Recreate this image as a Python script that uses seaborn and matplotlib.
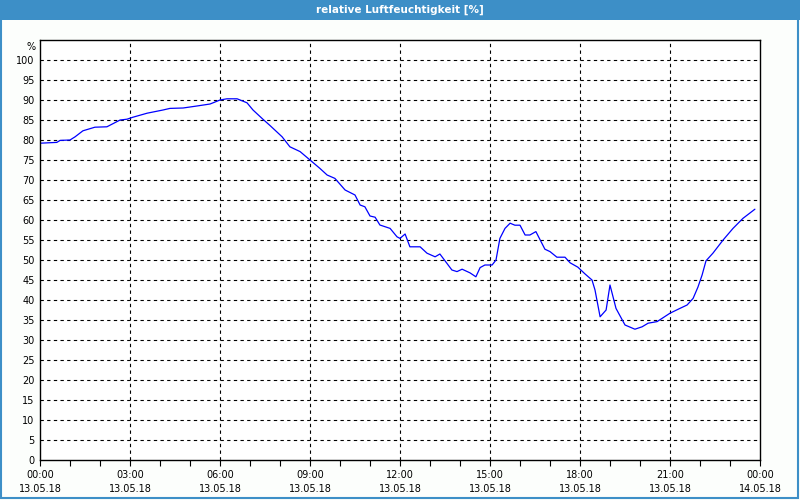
import matplotlib
matplotlib.use("Agg")
import matplotlib.pyplot as plt
import matplotlib.patches as mpatches
import seaborn as sns
import pandas as pd

# --- data (hours since 13.05.18 00:00, relative humidity %) ---
hours = [0.0, 0.56, 0.67, 1.0, 1.17, 1.43, 1.83, 2.23, 2.67, 2.9, 3.1, 3.57, 4.1, 4.33,
         4.77, 5.23, 5.67, 6.0, 6.23, 6.57, 6.9, 7.1, 7.43, 7.67, 8.07, 8.33, 8.67, 9.0,
         9.33, 9.57, 9.83, 10.17, 10.5, 10.67, 10.83, 11.0, 11.17, 11.33, 11.67, 11.9,
         12.0, 12.17, 12.33, 12.67, 12.9, 13.17, 13.33, 13.73, 13.9, 14.07, 14.33, 14.53,
         14.67, 14.83, 15.07, 15.2, 15.33, 15.5, 15.67, 15.83, 16.0, 16.17, 16.33, 16.53,
         16.83, 17.0, 17.23, 17.5, 17.67, 17.93, 18.17, 18.4, 18.5, 18.67, 18.87, 19.0,
         19.2, 19.5, 19.83, 20.07, 20.27, 20.57, 21.0, 21.33, 21.57, 21.77, 21.93, 22.07,
         22.2, 22.43, 22.77, 23.1, 23.43, 23.83]
humidity = [79.2, 79.4, 79.9, 80.0, 80.8, 82.3, 83.2, 83.3, 85.0, 85.2, 85.7, 86.7, 87.5,
            87.9, 88.0, 88.5, 89.0, 90.0, 90.3, 90.3, 89.3, 87.5, 85.2, 83.6, 80.8, 78.3,
            77.1, 75.0, 72.9, 71.25, 70.4, 67.5, 66.25, 63.75, 63.3, 61.0, 60.7, 58.75,
            57.9, 55.8, 55.4, 56.5, 53.3, 53.3, 51.7, 50.8, 51.5, 47.5, 47.1, 47.7, 46.8,
            45.8, 48.1, 48.75, 48.75, 50.0, 55.4, 57.9, 59.2, 58.7, 58.7, 56.25, 56.25,
            57.1, 52.7, 52.1, 50.7, 50.7, 49.3, 48.2, 46.5, 45.0, 42.5, 35.8, 37.5, 43.75,
            37.9, 33.75, 32.7, 33.3, 34.2, 34.6, 36.7, 37.9, 38.75, 40.4, 43.2, 46.25,
            49.8, 51.7, 55.0, 57.9, 60.4, 62.7]
x_tick_hours = [0, 3, 6, 9, 12, 15, 18, 21, 24]
x_tick_labels = ["00:00\n13.05.18", "03:00\n13.05.18", "06:00\n13.05.18",
                 "09:00\n13.05.18", "12:00\n13.05.18", "15:00\n13.05.18",
                 "18:00\n13.05.18", "21:00\n13.05.18", "00:00\n14.05.18"]
y_ticks = list(range(0, 101, 5))
title = "relative Luftfeuchtigkeit [%]"

df = pd.DataFrame({"h": hours, "rh": humidity})

sns.set_style("white")
plt.rcParams['font.family'] = ['DejaVu Sans']

fig = plt.figure(figsize=(8, 5), dpi=100, facecolor="#fcfefc")
ax = fig.add_axes([0.05, 0.08, 0.90, 0.84])
ax.set_facecolor("white")

sns.lineplot(data=df, x="h", y="rh", ax=ax, color="#0000ff", linewidth=0.9)

ax.set_xlim(0, 24)
ax.set_ylim(0, 105)
ax.set_xticks(x_tick_hours)
ax.set_xticklabels(x_tick_labels, fontsize=7, linespacing=1.55, color="black")
ax.set_xticks(range(0, 25), minor=True)
ax.set_yticks(y_ticks)
ax.set_yticklabels([str(v) for v in y_ticks], fontsize=7, color="black")
ax.tick_params(axis="x", which="both", direction="out", length=4, width=0.8,
               color="black", pad=3, bottom=True)
ax.tick_params(axis="y", length=0, pad=4)
ax.set_xlabel("")
ax.set_ylabel("")

for v in y_ticks[1:]:
    ax.axhline(v, color="black", linestyle=(0, (3, 3)), linewidth=0.8, zorder=0)
for h in x_tick_hours[1:-1]:
    ax.axvline(h, color="black", linestyle=(0, (3, 3)), linewidth=0.8, zorder=0)

for s in ax.spines.values():
    s.set_visible(True)
    s.set_color("black")
    s.set_linewidth(1.0)

ax.text(-0.006, 104.5, "%", transform=ax.get_yaxis_transform(), ha="right", va="top",
        fontsize=7, color="black")

# title bar and frame
fig.patches.append(mpatches.Rectangle((0, 0.96), 1, 0.04, transform=fig.transFigure,
                                      facecolor="#3d8fc7", edgecolor="none", zorder=-1))
fig.patches.append(mpatches.Rectangle((0.001, 0.004), 0.997, 0.99, transform=fig.transFigure,
                                      facecolor="none", edgecolor="#3d8fc7", linewidth=1.5))
fig.text(0.5, 0.981, title, color="white", ha="center", va="center", fontsize=7.5,
         fontweight="bold")

fig.savefig("out.png", dpi=100, facecolor=fig.get_facecolor())
